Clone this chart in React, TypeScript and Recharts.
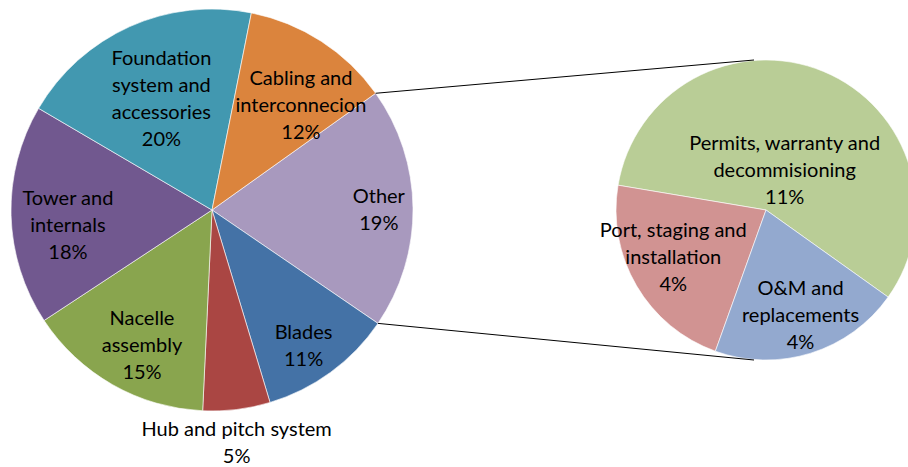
import { PieChart, Pie, Cell } from 'recharts';

const W = 908;
const H = 467;

// main pie, clockwise from the "Other" slice
const mainNames = [
  'Other',
  'Blades',
  'Hub and pitch system',
  'Nacelle\nassembly',
  'Tower and\ninternals',
  'Foundation\nsystem and\naccessories',
  'Cabling and\ninterconnecion',
];
const mainValues = [19.4, 10.8, 5.4, 15.0, 17.7, 19.7, 12.0];
const mainColors = ['#A899BE', '#4472A6', '#AA4643', '#89A54E', '#71588F', '#4298B0', '#DB843D'];

// breakdown of "Other"
const subNames = ['Permits, warranty and\ndecommisioning', 'Port, staging and\ninstallation', 'O&M and\nreplacements'];
const subValues = [11.1, 4.3, 4.0];
const subColors = ['#B9CD96', '#D19392', '#93A9CF'];

const mainData = mainNames.map((name, i) => ({ name, value: mainValues[i] }));
const subData = subNames.map((name, i) => ({ name, value: subValues[i] }));

const L = { cx: 212, cy: 210, r: 201, start: 35.5 };
const R = { cx: 766, cy: 210, r: 150, start: -35.5 };

// label placement: [radius factor, angle nudge in degrees]
const labelPos: Record<string, [number, number]> = {
  Other: [0.83, 0],
  Blades: [0.81, -2],
  'Hub and pitch system': [1.16, -1],
  'Nacelle\nassembly': [0.75, 2],
  'Tower and\ninternals': [0.72, 4],
  'Foundation\nsystem and\naccessories': [0.615, 0],
  'Cabling and\ninterconnecion': [0.69, -7],
  'Permits, warranty and\ndecommisioning': [0.3, -2],
  'Port, staging and\ninstallation': [0.69, -4],
  'O&M and\nreplacements': [0.73, 1],
};

const RAD = Math.PI / 180;
const LH = 27;

const renderLabel = (props: any) => {
  const { cx, cy, midAngle, outerRadius, name, value } = props;
  const [f, nudge] = labelPos[name] || [0.6, 0];
  const a = midAngle + nudge;
  const x = cx + outerRadius * f * Math.cos(-a * RAD);
  const y = cy + outerRadius * f * Math.sin(-a * RAD);
  const lines = [...String(name).split('\n'), `${Math.round(value)}%`];
  const y0 = y - ((lines.length - 1) * LH) / 2;
  return (
    <text
      x={x}
      y={y0}
      textAnchor="middle"
      fill="#000"
      fontSize={20}
      fontFamily="Lato, 'Open Sans', sans-serif"
    >
      {lines.map((t, i) => (
        <tspan key={i} x={x} y={y0 + i * LH} dominantBaseline="central">
          {t}
        </tspan>
      ))}
    </text>
  );
};

export default function App() {
  // connector endpoints from the "Other" slice edges to the top/bottom of the second pie
  const otherSpan = (mainValues[0] / mainValues.reduce((s, v) => s + v, 0)) * 360;
  const a1 = L.start * RAD;
  const a2 = (L.start - otherSpan) * RAD;
  const p1 = { x: L.cx + L.r * Math.cos(-a1), y: L.cy + L.r * Math.sin(-a1) };
  const p2 = { x: L.cx + L.r * Math.cos(-a2), y: L.cy + L.r * Math.sin(-a2) };

  return (
    <div style={{ position: 'absolute', left: 0, top: 0, width: W, height: H, background: '#fff', overflow: 'hidden' }}>
      <PieChart width={W} height={H} margin={{ top: 0, right: 0, bottom: 0, left: 0 }}>
        <Pie
          data={mainData}
          dataKey="value"
          nameKey="name"
          cx={L.cx}
          cy={L.cy}
          outerRadius={L.r}
          startAngle={L.start}
          endAngle={L.start - 360}
          labelLine={false}
          label={renderLabel}
          stroke="#ffffff"
          strokeWidth={0.6}
          isAnimationActive={false}
        >
          {mainData.map((d, i) => (
            <Cell key={d.name} fill={mainColors[i]} />
          ))}
        </Pie>
        <Pie
          data={subData}
          dataKey="value"
          nameKey="name"
          cx={R.cx}
          cy={R.cy}
          outerRadius={R.r}
          startAngle={R.start}
          endAngle={R.start + 360}
          labelLine={false}
          label={renderLabel}
          stroke="#ffffff"
          strokeWidth={0.6}
          isAnimationActive={false}
        >
          {subData.map((d, i) => (
            <Cell key={d.name} fill={subColors[i]} />
          ))}
        </Pie>
      </PieChart>
      <svg width={W} height={H} style={{ position: 'absolute', left: 0, top: 0, pointerEvents: 'none' }}>
        <line x1={p1.x} y1={p1.y} x2={R.cx - 12} y2={R.cy - R.r} stroke="#000" strokeWidth={1} />
        <line x1={p2.x} y1={p2.y} x2={R.cx - 12} y2={R.cy + R.r} stroke="#000" strokeWidth={1} />
      </svg>
    </div>
  );
}
